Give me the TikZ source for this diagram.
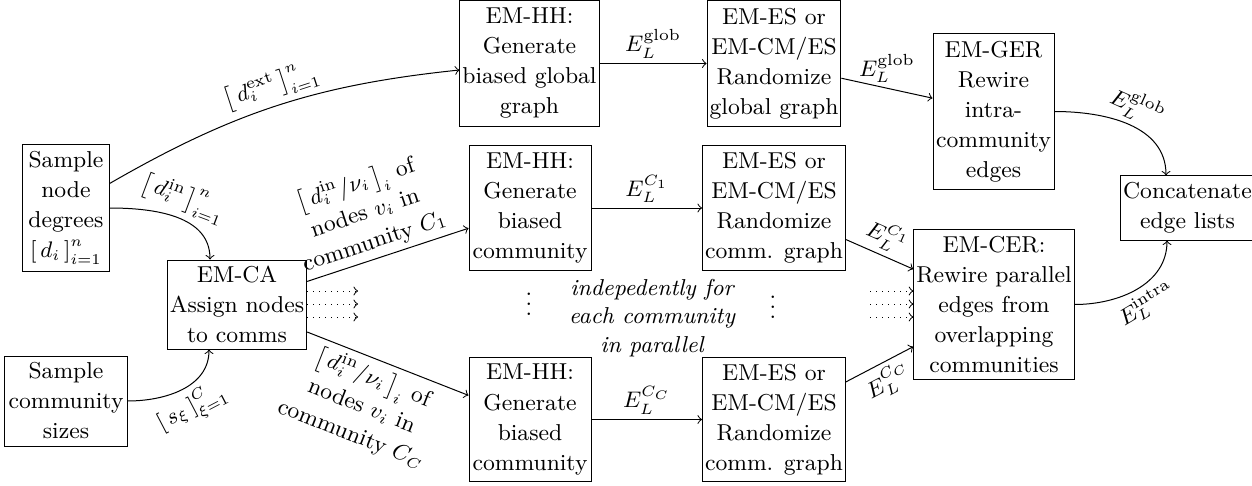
\documentclass[tikz,border=0pt]{standalone}
\usepackage{amsmath}
\begin{document}
\begin{tikzpicture}[x=0.4pt,y=-0.4pt,
  every node/.style={font=\fontsize{9.2}{12}\selectfont},
  box/.style={draw, align=center, inner sep=1pt},
  arr/.style={->},
  lbl/.style={inner sep=2pt}]
\useasboundingbox (0,0) rectangle (1252,486);
% nodes
\node[box, minimum width=34.4pt, minimum height=50.4pt] (deg) at (66,208) {Sample\\node\\degrees\\$\left[\,d_i\,\right]_{i=1}^{n}$};
\node[box, minimum width=55.2pt, minimum height=35.6pt] (ca) at (237,304.5) {EM-CA\\Assign nodes\\to comms};
\node[box, minimum width=48.8pt, minimum height=36pt] (sizes) at (66,401) {Sample\\community\\sizes};
\node[box, minimum width=54pt, minimum height=50pt] (hhg) at (529.5,63.5) {EM-HH:\\Generate\\biased global\\graph};
\node[box, minimum width=48.8pt, minimum height=49.6pt] (hh1) at (530,208) {EM-HH:\\Generate\\biased\\community};
\node[box, minimum width=48.8pt, minimum height=49.6pt] (hhc) at (530,419.5) {EM-HH:\\Generate\\biased\\community};
\node[box, minimum width=52.8pt, minimum height=50pt] (esg) at (774,63.5) {EM-ES or\\EM-CM/ES\\Randomize\\global graph};
\node[box, minimum width=55.2pt, minimum height=49.6pt] (es1) at (774,208) {EM-ES or\\EM-CM/ES\\Randomize\\comm. graph};
\node[box, minimum width=55.2pt, minimum height=49.6pt] (esc) at (774,419.5) {EM-ES or\\EM-CM/ES\\Randomize\\comm. graph};
\node[box, minimum width=48.4pt, minimum height=62pt] (ger) at (993.5,111.5) {EM-GER\\Rewire\\intra-\\community\\edges};
\node[box, minimum width=61.6pt, minimum height=59.6pt] (cer) at (994,304.5) {EM-CER:\\Rewire parallel\\edges from\\overlapping\\communities};
\node[box, minimum width=50.8pt, minimum height=25.6pt] (cat) at (1187.5,208) {Concatenate\\edge lists};
% texts
\node[align=center, font=\fontsize{9.2}{11.4}\selectfont\itshape, inner sep=0pt] (par) at (652,318) {indepedently for\\each community\\in parallel};
\node[inner sep=0pt] (vd1) at (529,297) {$\vdots$};
\node[inner sep=0pt] (vd2) at (773,300) {$\vdots$};
% connectors
\draw[arr] (deg) to[bend left=12] node[midway, above, sloped, lbl] {$\left[\,d_i^{\text{ext}}\,\right]_{i=1}^{n}$} (hhg);
\draw[arr] (deg.east) to[out=0,in=90] node[midway, above, sloped, lbl] {$\left[\,d_i^{\text{in}}\,\right]_{i=1}^{n}$} ([xshift=-10.8pt]ca.north);
\draw[arr] (sizes.east) to[out=0,in=-90] node[midway, below, sloped, lbl] {$\left[\,s_\xi\,\right]_{\xi=1}^{C}$} ([xshift=-11.2pt]ca.south);
\draw[arr] (ca) -- node[pos=0.45, above, sloped, lbl, align=center] {$\left[\,d_i^{\text{in}}/\nu_i\,\right]_i$ of\\nodes $v_i$ in\\community $C_1$} (hh1);
\draw[arr] (ca) -- node[pos=0.45, below, sloped, lbl, align=center] {$\left[\,d_i^{\text{in}}/\nu_i\,\right]_i$ of\\nodes $v_i$ in\\community $C_C$} (hhc);
\draw[arr] (hhg) -- node[midway, above, lbl] {$E_L^{\text{glob}}$} (esg);
\draw[arr] (esg) -- node[midway, above, lbl] {$E_L^{\text{glob}}$} (ger);
\draw[arr] (ger.east) to[out=0,in=90] node[midway, above, sloped, lbl] {$E_L^{\text{glob}}$} ([xshift=-8.6pt]cat.north);
\draw[arr] (hh1) -- node[midway, above, lbl] {$E_L^{C_1}$} (es1);
\draw[arr] (es1) -- node[midway, above, sloped, lbl] {$E_L^{C_1}$} (cer);
\draw[arr] (hhc) -- node[midway, above, lbl] {$E_L^{C_C}$} (esc);
\draw[arr] (esc) -- node[midway, below, sloped, lbl] {$E_L^{C_C}$} (cer);
\draw[arr] (cer.east) to[out=0,in=-90] node[midway, below, sloped, lbl] {$E_L^{\text{intra}}$} ([xshift=-8.2pt]cat.south);
% dotted arrows
\coordinate (l1) at (358,291);
\coordinate (l2) at (358,304);
\coordinate (l3) at (358,317);
\draw[arr, dotted] (ca.east |- l1) -- (l1);
\draw[arr, dotted] (ca.east |- l2) -- (l2);
\draw[arr, dotted] (ca.east |- l3) -- (l3);
\coordinate (r1) at (870,291);
\coordinate (r2) at (870,304);
\coordinate (r3) at (870,317);
\draw[arr, dotted] (r1) -- (cer.west |- r1);
\draw[arr, dotted] (r2) -- (cer.west |- r2);
\draw[arr, dotted] (r3) -- (cer.west |- r3);
\end{tikzpicture}
\end{document}
